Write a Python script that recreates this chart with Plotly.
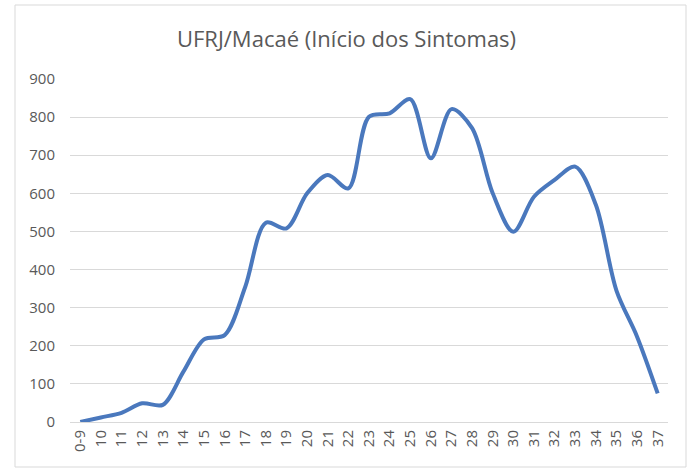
import plotly.graph_objects as go

categories = ["0-9"] + [str(i) for i in range(10, 38)]
values = [0, 12, 24, 49, 45, 132, 217, 228, 355, 523, 508, 600, 648, 613, 801,
          810, 847, 692, 821, 771, 600, 499, 591, 635, 670, 570, 345, 224, 75]
y_ticks = list(range(0, 1000, 100))

fig = go.Figure()
fig.add_trace(go.Scatter(
    x=categories, y=values, mode="lines",
    line=dict(color="#4a78bd", width=4, shape="spline", smoothing=0.9),
    hoverinfo="x+y", showlegend=False,
))

fig.update_layout(
    width=693, height=470,
    margin=dict(l=70, r=25, t=79, b=48, autoexpand=False),
    paper_bgcolor="white", plot_bgcolor="white",
    font=dict(family="Open Sans, Liberation Sans, sans-serif", color="#595959"),
    title=dict(text="UFRJ/Macaé (Início dos Sintomas)", x=0.5, xanchor="center",
               y=1 - 39 / 470, yanchor="middle",
               font=dict(size=22, color="#595959")),
    xaxis=dict(type="category", tickangle=-90, showgrid=False,
               tickfont=dict(size=15, color="#595959"),
               showline=False, ticks="", range=[-0.5, len(categories) - 0.5],
               automargin=False, ticklabelstandoff=4, fixedrange=True),
    yaxis=dict(range=[0, 900], tickvals=y_ticks, showgrid=True,
               gridcolor="#d9d9d9", gridwidth=1, zeroline=True,
               zerolinecolor="#d9d9d9", zerolinewidth=1,
               tickfont=dict(size=15, color="#595959"), ticks="",
               automargin=False, ticklabelstandoff=14, fixedrange=True),
    shapes=[dict(type="rect", xref="paper", yref="paper",
                 x0=(15 - 70) / 598, x1=(686 - 70) / 598,
                 y0=(422 - 467) / 343, y1=(422 - 5) / 343,
                 line=dict(color="#d9d9d9", width=1), layer="below")],
)

fig.write_html("out.html",
               config={"displayModeBar": False},
               post_script="document.body.style.margin='0';document.body.style.padding='0';")
